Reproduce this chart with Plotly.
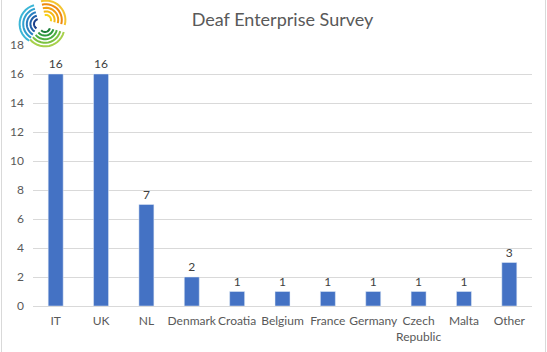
import math
import plotly.graph_objects as go

categories = ["IT", "UK", "NL", "Denmark", "Croatia", "Belgium", "France",
              "Germany", "Czech<br>Republic", "Malta", "Other"]
values = [16, 16, 7, 2, 1, 1, 1, 1, 1, 1, 3]
y_ticks = [0, 2, 4, 6, 8, 10, 12, 14, 16, 18]

W, H = 547, 352
ML, MR, MT, MB = 33, 15, 45, 46
PW, PH = W - ML - MR, H - MT - MB

def px(x):
    return (x - ML) / PW

def py(y):
    return (H - MB - y) / PH

fig = go.Figure()
fig.add_trace(go.Bar(
    x=categories, y=values, marker_color="#4472C4",
    text=values, textposition="outside", cliponaxis=False,
    textfont=dict(size=12, color="#404040"),
))

shapes = []
# chart border (left and right)
for xx in (1.5, 545.5):
    shapes.append(dict(type="line", xref="paper", yref="paper",
                       x0=px(xx), x1=px(xx), y0=py(0), y1=py(H),
                       line=dict(color="#D9D9D9", width=1)))

# logo approximation: swirl of arcs
cx, cy = 43, 23
groups = [
    (105, 240, (-4, 1), ["#1B3F8B", "#1F5FA8", "#2A7FC0", "#2FA0CF", "#3BB6D6"]),
    (-15, 105, (3, -3), ["#F7D117", "#F5B914", "#F29F12", "#EE8A10", "#F4C430"]),
    (220, 345, (2, 4), ["#1E7F3A", "#2E9A3E", "#4DB040", "#7CC242", "#A6D04A"]),
]
for a0, a1, (ox, oy), cols in groups:
    for i, col in enumerate(cols):
        r = 5 + i * 3.6
        pts = []
        for k in range(15):
            a = math.radians(a0 + (a1 - a0) * k / 14)
            x = cx + ox + r * math.cos(a)
            y = cy + oy - r * math.sin(a)
            pts.append((px(x), py(y)))
        path = "M " + " L ".join(f"{a:.4f},{b:.4f}" for a, b in pts)
        shapes.append(dict(type="path", xref="paper", yref="paper", path=path,
                           line=dict(color=col, width=2)))

fig.update_layout(
    width=W, height=H,
    margin=dict(l=ML, r=MR, t=MT, b=MB, autoexpand=False),
    paper_bgcolor="white", plot_bgcolor="white",
    font=dict(family="Lato, Open Sans, sans-serif", color="#595959", size=12),
    title=dict(text="Deaf Enterprise Survey", x=0.5, xref="paper", xanchor="center",
               y=1 - 20 / H, yanchor="middle",
               font=dict(size=18, color="#595959")),
    bargap=0.67,
    showlegend=False,
    shapes=shapes,
    xaxis=dict(showgrid=False, showline=True, linecolor="#D9D9D9", linewidth=1,
               ticks="", tickangle=0, automargin=False, ticklabelstandoff=4,
               tickfont=dict(size=12, color="#595959")),
    yaxis=dict(range=[0, 18], tickvals=y_ticks, showgrid=True, gridcolor="#D9D9D9",
               gridwidth=1, zeroline=False, showline=False, ticks="", automargin=False,
               ticklabelstandoff=8,
               tickfont=dict(size=12, color="#595959")),
)
fig.write_html("out.html")
